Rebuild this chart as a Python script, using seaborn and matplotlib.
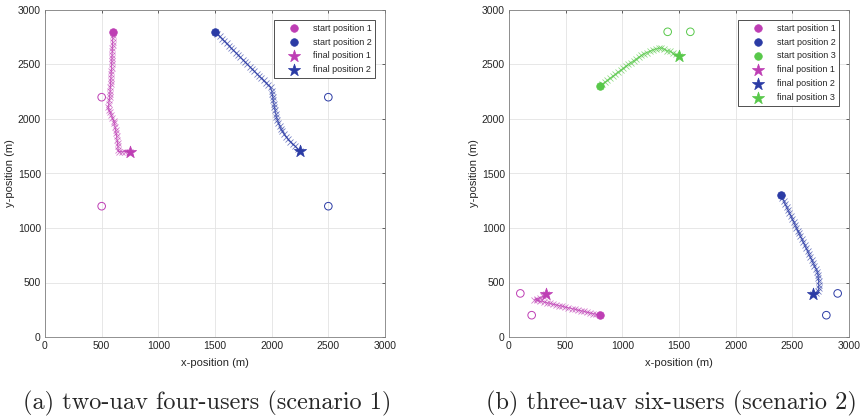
import numpy as np
import pandas as pd
import matplotlib
matplotlib.use("Agg")
import matplotlib.pyplot as plt
import seaborn as sns

# ---------------- data ----------------
# Scenario 1 (two UAV, four users)
s1_traj1_x = [600, 599, 598, 597, 596, 595, 594, 592, 591, 590, 588, 587, 585, 584, 582, 580, 579, 577, 575, 573,
              570, 567, 563, 558, 565, 575, 585, 595, 605, 612, 618, 623, 628, 632, 636, 640, 643, 646, 650, 680,
              710, 740, 750]
s1_traj1_y = [2800, 2770, 2740, 2710, 2680, 2650, 2620, 2590, 2560, 2530, 2500, 2470, 2440, 2410, 2380, 2350, 2320,
              2290, 2260, 2230, 2200, 2170, 2140, 2110, 2085, 2060, 2035, 2010, 1985, 1960, 1930, 1900, 1870, 1840,
              1810, 1780, 1750, 1720, 1700, 1700, 1700, 1700, 1700]
s1_traj2_x = [1500, 1520, 1541, 1561, 1582, 1602, 1622, 1643, 1663, 1684, 1704, 1724, 1745, 1765, 1786, 1806, 1826,
              1847, 1867, 1888, 1908, 1928, 1949, 1969, 1990, 2000, 2005, 2010, 2015, 2020, 2025, 2030, 2036, 2042,
              2050, 2060, 2070, 2082, 2095, 2110, 2127, 2145, 2165, 2185, 2205, 2228, 2250]
s1_traj2_y = [2800, 2779, 2758, 2736, 2715, 2694, 2672, 2651, 2630, 2609, 2588, 2566, 2545, 2524, 2502, 2481, 2460,
              2439, 2417, 2396, 2375, 2354, 2332, 2311, 2290, 2260, 2230, 2200, 2170, 2140, 2110, 2080, 2050, 2020,
              1992, 1965, 1938, 1912, 1887, 1862, 1838, 1815, 1793, 1772, 1752, 1728, 1705]
s1_users1_x = [500, 500]
s1_users1_y = [2200, 1200]
s1_users2_x = [2500, 2500]
s1_users2_y = [2200, 1200]

# Scenario 2 (three UAV, six users)
s2_traj1_x = [800, 772, 745, 717, 690, 662, 635, 607, 580, 552, 525, 497, 470, 442, 415, 387, 360, 332, 305, 277,
              250, 225, 250, 275, 300, 330]
s2_traj1_y = [200, 207, 214, 220, 227, 234, 241, 247, 254, 261, 268, 274, 281, 288, 295, 301, 308, 315, 322, 328,
              335, 342, 352, 362, 375, 390]
s2_traj2_x = [2400, 2412, 2425, 2437, 2449, 2462, 2474, 2486, 2498, 2511, 2523, 2535, 2548, 2560, 2572, 2585, 2597,
              2609, 2622, 2634, 2646, 2658, 2671, 2683, 2695, 2708, 2720, 2727, 2730, 2732, 2733, 2733, 2730, 2710,
              2680]
s2_traj2_y = [1300, 1273, 1246, 1219, 1192, 1165, 1138, 1112, 1085, 1058, 1031, 1004, 977, 950, 923, 896, 869, 842,
              815, 788, 762, 735, 708, 681, 654, 627, 600, 570, 540, 510, 480, 450, 425, 405, 390]
s2_traj3_x = [800, 823, 846, 869, 892, 915, 938, 961, 984, 1007, 1030, 1053, 1076, 1099, 1122, 1145, 1168, 1192,
              1216, 1242, 1268, 1294, 1320, 1345, 1370, 1395, 1420, 1445, 1470, 1500]
s2_traj3_y = [2300, 2319, 2337, 2356, 2374, 2392, 2410, 2429, 2447, 2465, 2483, 2500, 2517, 2534, 2551, 2567, 2583,
              2598, 2610, 2622, 2633, 2642, 2648, 2652, 2640, 2628, 2620, 2605, 2592, 2580]
s2_users1_x = [100, 200]
s2_users1_y = [400, 200]
s2_users2_x = [2800, 2900]
s2_users2_y = [200, 400]
s2_users3_x = [1400, 1600]
s2_users3_y = [2800, 2800]

axis_ticks = [0, 500, 1000, 1500, 2000, 2500, 3000]
captions = ["(a) two-uav four-users (scenario 1)", "(b) three-uav six-users (scenario 2)"]

colors = ["#BE3EB4", "#2B3BA5", "#58C84A"]

# ---------------- plotting ----------------
sns.set_theme(style="white")
plt.rcParams["font.family"] = ["Liberation Sans", "DejaVu Sans"]

W, H = 862, 419
fig = plt.figure(figsize=(W / 100, H / 100), dpi=100)
ax1 = fig.add_axes([45 / W, (H - 337) / H, 340 / W, 327 / H])
ax2 = fig.add_axes([509 / W, (H - 337) / H, 340 / W, 327 / H])

scen = [
    (ax1, [(s1_traj1_x, s1_traj1_y), (s1_traj2_x, s1_traj2_y)],
     [(s1_users1_x, s1_users1_y), (s1_users2_x, s1_users2_y)]),
    (ax2, [(s2_traj1_x, s2_traj1_y), (s2_traj2_x, s2_traj2_y), (s2_traj3_x, s2_traj3_y)],
     [(s2_users1_x, s2_users1_y), (s2_users2_x, s2_users2_y), (s2_users3_x, s2_users3_y)]),
]

for ax, trajs, users in scen:
    # users
    for i, (ux, uy) in enumerate(users):
        sns.scatterplot(x=ux, y=uy, ax=ax, marker="o", s=30, facecolor="none",
                        edgecolor=colors[i], linewidth=0.7, zorder=3)
    # trajectories
    for i, (tx, ty) in enumerate(trajs):
        df = pd.DataFrame({"x": tx, "y": ty})
        sns.lineplot(data=df, x="x", y="y", sort=False, estimator=None, ax=ax, color=colors[i],
                     marker="x", markersize=4.8, markeredgewidth=0.55, markeredgecolor=colors[i],
                     linewidth=0.9, alpha=0.7, zorder=4)
    # start positions
    for i, (tx, ty) in enumerate(trajs):
        sns.scatterplot(x=[tx[0]], y=[ty[0]], ax=ax, marker="o", s=30, color=colors[i],
                        edgecolor=colors[i], linewidth=0.5, zorder=5, label=f"start position {i + 1}")
    # final positions
    for i, (tx, ty) in enumerate(trajs):
        sns.scatterplot(x=[tx[-1]], y=[ty[-1]], ax=ax, marker="*", s=85, color=colors[i],
                        edgecolor=colors[i], linewidth=0.5, zorder=6, label=f"final position {i + 1}")

    ax.set_xlim(0, 3000)
    ax.set_ylim(0, 3000)
    ax.set_xticks(axis_ticks)
    ax.set_yticks(axis_ticks)
    ax.tick_params(axis="both", labelsize=7.5, direction="in", length=2.5, width=0.5,
                   colors="#262626", top=True, right=True, pad=3)
    ax.grid(True, color="#E3E3E3", linewidth=0.6)
    ax.set_axisbelow(True)
    for sp in ax.spines.values():
        sp.set_color("#7F7F7F")
        sp.set_linewidth(0.6)
    ax.set_xlabel("x-position (m)", fontsize=8, color="#262626", labelpad=5)
    ax.set_ylabel("y-position (m)", fontsize=8, color="#262626", labelpad=2)
    leg = ax.legend(loc="upper right", fontsize=6.5, frameon=True, fancybox=False, framealpha=1,
                    edgecolor="#333333", borderpad=0.4, labelspacing=0.55, handletextpad=0.3,
                    handlelength=3.6, borderaxespad=1.1)
    leg.get_frame().set_linewidth(0.6)

fig.text(207 / W, 1 - 403 / H, captions[0], ha="center", va="center", fontsize=17.5, family="cmr10")
fig.text(671 / W, 1 - 403 / H, captions[1], ha="center", va="center", fontsize=17.5, family="cmr10")

fig.savefig("out.png", dpi=100)
